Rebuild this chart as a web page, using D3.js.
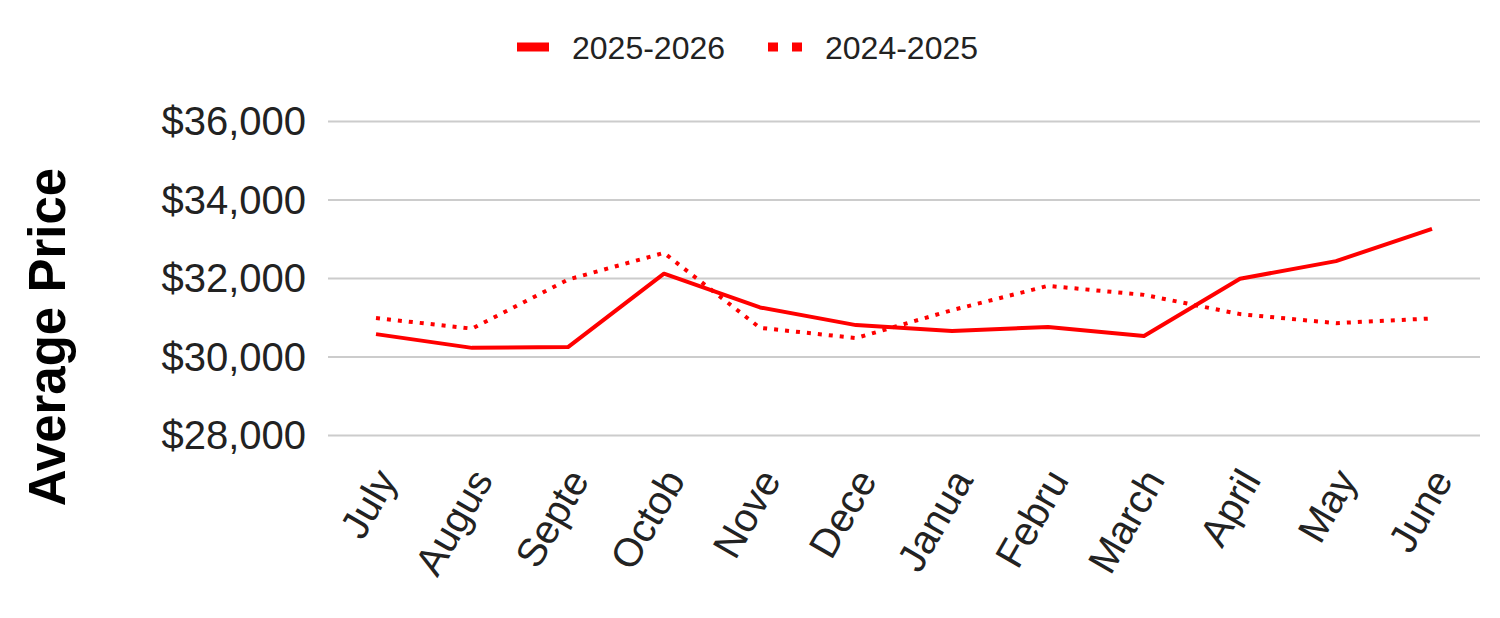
<!DOCTYPE html>
<html>
<head>
<meta charset="utf-8">
<script src="https://cdn.jsdelivr.net/npm/d3@7"></script>
<style>
  body { margin: 0; background: #fff; }
  text { font-family: "Liberation Sans", Arial, sans-serif; fill: #222; }
  .grid line { stroke: #cccccc; stroke-width: 2; }
  .grid path { display: none; }
</style>
</head>
<body>
<svg id="chart" width="1500" height="618"></svg>
<script>
// Data ////////////////////////////////////////////////////////////////
var months = ["July", "Augus", "Septe", "Octob", "Nove", "Dece",
              "Janua", "Febru", "March", "April", "May", "June"];
var seriesNames = ["2025-2026", "2024-2025"];
var current = [30570, 30220, 30240, 32110, 31250, 30800,
               30650, 30750, 30520, 31980, 32430, 33250];
var previous = [30980, 30710, 31960, 32640, 30730, 30470,
                31180, 31800, 31570, 31080, 30850, 30970];
var yTicks = [28000, 30000, 32000, 34000, 36000];

var svg = d3.select("#chart");

// Scales
var x = d3.scaleBand().domain(months).range([328, 1480]);
var y = d3.scaleLinear().domain([28000, 36000]).range([435, 121]);
var cx = function(d, i) { return x(months[i]) + x.bandwidth() / 2; };

// Gridlines
svg.append("g")
    .attr("class", "grid")
    .attr("transform", "translate(328,0)")
    .call(d3.axisLeft(y).tickValues(yTicks).tickSize(-1152).tickFormat(""));

// Y tick labels
svg.selectAll(".y-label")
    .data(yTicks)
    .enter()
    .append("text")
        .attr("class", "y-label")
        .attr("x", 306)
        .attr("y", function(d) { return y(d); })
        .attr("dy", "0.36em")
        .attr("text-anchor", "end")
        .style("font-size", "40px")
        .text(function(d) { return "$" + d3.format(",")(d); });

// Y title
svg.append("text")
    .attr("transform", "translate(65,337) rotate(-90)")
    .attr("text-anchor", "middle")
    .style("font-size", "51px")
    .style("font-weight", "bold")
    .style("fill", "#000")
    .text("Average Price");

// X labels
svg.selectAll(".x-label")
    .data(months)
    .enter()
    .append("text")
        .attr("class", "x-label")
        .attr("transform", function(d) {
            return "translate(" + (x(d) + x.bandwidth() / 2 + 22) + ",480) rotate(-60)";
        })
        .attr("text-anchor", "end")
        .style("font-size", "40px")
        .text(function(d) { return d; });

// Lines
var line = d3.line().x(cx).y(function(d) { return y(d); });

svg.append("path")
    .datum(previous)
    .attr("d", line)
    .attr("fill", "none")
    .attr("stroke", "#ff0000")
    .attr("stroke-width", 4)
    .attr("stroke-dasharray", "4,7");

svg.append("path")
    .datum(current)
    .attr("d", line)
    .attr("fill", "none")
    .attr("stroke", "#ff0000")
    .attr("stroke-width", 4)
    .attr("stroke-linejoin", "round");

// Legend
var legend = svg.selectAll(".legend")
    .data(seriesNames)
    .enter()
    .append("g")
        .attr("class", "legend")
        .attr("transform", function(d, i) { return "translate(" + (517 + i * 251) + ",47)"; });

legend.append("line")
    .attr("x1", 0)
    .attr("x2", function(d, i) { return i === 0 ? 32 : 34; })
    .attr("stroke", "#ff0000")
    .attr("stroke-width", 9)
    .attr("stroke-dasharray", function(d, i) { return i === 0 ? null : "10,14"; });

legend.append("text")
    .attr("x", function(d, i) { return i === 0 ? 55 : 57; })
    .attr("dy", "0.36em")
    .style("font-size", "32px")
    .text(function(d) { return d; });
</script>
</body>
</html>
